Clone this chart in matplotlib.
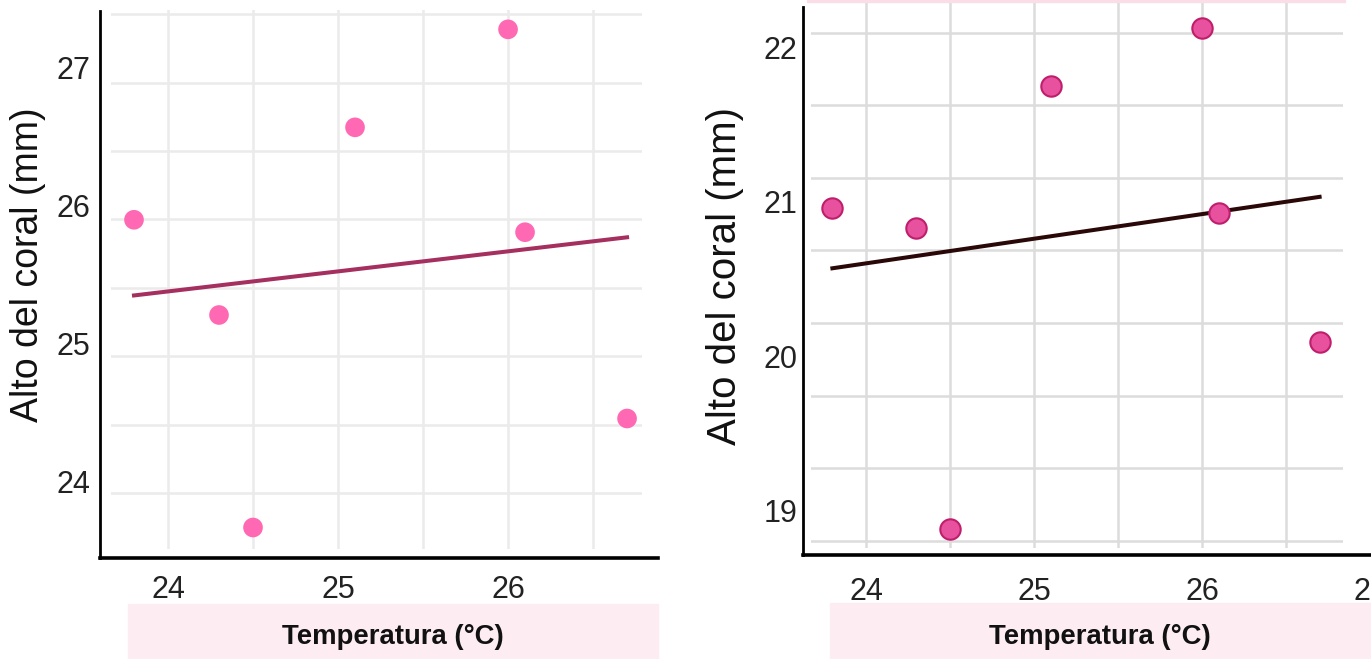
import numpy as np
import matplotlib
matplotlib.use("Agg")
import matplotlib.pyplot as plt
from matplotlib.patches import Rectangle

plt.rcParams["font.family"] = ["Liberation Sans", "DejaVu Sans"]

# ---------------- data ----------------
temperatura = [23.8, 24.3, 24.5, 25.1, 26.0, 26.1, 26.7]
alto_izq = [25.90, 25.21, 23.67, 26.57, 27.28, 25.81, 24.46]
alto_der = [20.96, 20.83, 18.88, 21.75, 22.13, 20.93, 20.09]
xticks_izq = [24, 25, 26]
xticks_der = [24, 25, 26, 27]
yticks_izq = [24, 25, 26, 27]
yticks_der = [19, 20, 21, 22]
xlabel_txt = "Temperatura (°C)"
ylabel_txt = "Alto del coral (mm)"

# ---------------- layout helpers ----------------
W, H = 1371, 659
fig = plt.figure(figsize=(W / 100, H / 100), dpi=100)
fig.patch.set_facecolor("white")


def box(x0, y0, x1, y1):
    return [x0 / W, 1 - y1 / H, (x1 - x0) / W, (y1 - y0) / H]


NARROW = ["Liberation Sans Narrow", "Liberation Sans", "DejaVu Sans"]
REG = ["Liberation Sans", "DejaVu Sans"]


def grid_axes(rect, xlim, ylim, color, lw):
    g = fig.add_axes(rect, zorder=0)
    g.set_xlim(*xlim)
    g.set_ylim(*ylim)
    g.set_xticks(np.arange(np.ceil(xlim[0] * 2) / 2, xlim[1], 0.5))
    g.set_yticks(np.arange(np.ceil(ylim[0] * 2) / 2, ylim[1], 0.5))
    g.grid(True, color=color, lw=lw)
    g.tick_params(length=0, labelbottom=False, labelleft=False)
    for s in g.spines.values():
        s.set_visible(False)
    g.set_facecolor("none")
    return g


# ================= left panel =================
grid_axes(box(111, 10, 642, 549), (23.665, 26.788), (23.591, 27.531), "#EBEBEB", 1.8)

axL = fig.add_axes(box(100, 11, 658, 558), zorder=2)
axL.set_facecolor("none")
axL.set_xlim(23.6, 26.882)
axL.set_ylim(23.449, 27.413)
axL.scatter(temperatura, alto_izq, s=200, color="#FF69B4", edgecolor="none", zorder=3)
m, b = np.polyfit(temperatura, alto_izq, 1)
xs = np.array([min(temperatura), max(temperatura)])
axL.plot(xs, m * xs + b, color="#A52F5E", lw=2.9, zorder=2)
axL.set_xticks(xticks_izq)
axL.set_yticks(yticks_izq)
axL.tick_params(axis="x", length=0, labelsize=22, pad=12, colors="#222222")
axL.tick_params(axis="y", length=0, labelsize=22, pad=7, colors="#222222")
for lbl in axL.get_xticklabels() + axL.get_yticklabels():
    lbl.set_family(NARROW)
for s in ["top", "right"]:
    axL.spines[s].set_visible(False)
axL.spines["left"].set_linewidth(2.0)
axL.spines["bottom"].set_linewidth(2.6)
axL.spines["left"].set_color("black")
axL.spines["bottom"].set_color("black")

fig.add_artist(Rectangle((128 / W, 1 - 659 / H), (658 - 128) / W, 55 / H,
                         transform=fig.transFigure, color="#FDEDF2", zorder=0))
fig.text(393 / W, 1 - 637 / H, xlabel_txt, ha="center", va="center",
         fontsize=19.8, fontweight="bold", color="#111111")
fig.text(28 / W, 1 - 265 / H, ylabel_txt, ha="center", va="center",
         rotation=90, fontsize=27, color="#111111")

# ================= right panel =================
grid_axes(box(811, 3, 1343, 548), (23.673, 26.839), (18.45, 22.205), "#DCDCDC", 1.8)

axR = fig.add_axes(box(803, 7, 1371, 555), zorder=2)
axR.set_facecolor("none")
axR.set_xlim(23.625, 27.006)
axR.set_ylim(18.708, 22.266)
axR.scatter(temperatura, alto_der, s=215, color="#E8519E", edgecolor="#BE1E6C",
            linewidth=1.5, zorder=3)
m2, b2 = np.polyfit(temperatura, alto_der, 1)
axR.plot(xs, m2 * xs + b2, color="#2A0808", lw=2.9, zorder=2)
axR.set_xticks(xticks_der)
axR.set_yticks(yticks_der)
axR.tick_params(axis="x", length=0, labelsize=22, pad=16, colors="#222222")
axR.tick_params(axis="y", length=0, labelsize=22, pad=4, colors="#222222")
for lbl in axR.get_xticklabels() + axR.get_yticklabels():
    lbl.set_family(REG)
for s in ["top", "right"]:
    axR.spines[s].set_visible(False)
axR.spines["left"].set_linewidth(2.0)
axR.spines["bottom"].set_linewidth(2.6)
axR.spines["left"].set_color("black")
axR.spines["bottom"].set_color("black")

fig.add_artist(Rectangle((830 / W, 1 - 659 / H), (1371 - 830) / W, 56 / H,
                         transform=fig.transFigure, color="#FDEDF2", zorder=0))
fig.add_artist(Rectangle((807 / W, 1 - 2 / H), (1345 - 807) / W, 2 / H,
                         transform=fig.transFigure, color="#FBDDE8", zorder=0))
fig.text(1100 / W, 1 - 637 / H, xlabel_txt, ha="center", va="center",
         fontsize=19.8, fontweight="bold", color="#111111")
fig.text(725 / W, 1 - 276 / H, ylabel_txt, ha="center", va="center",
         rotation=90, fontsize=29, color="#111111")

fig.savefig("out.png", dpi=100, facecolor="white")
